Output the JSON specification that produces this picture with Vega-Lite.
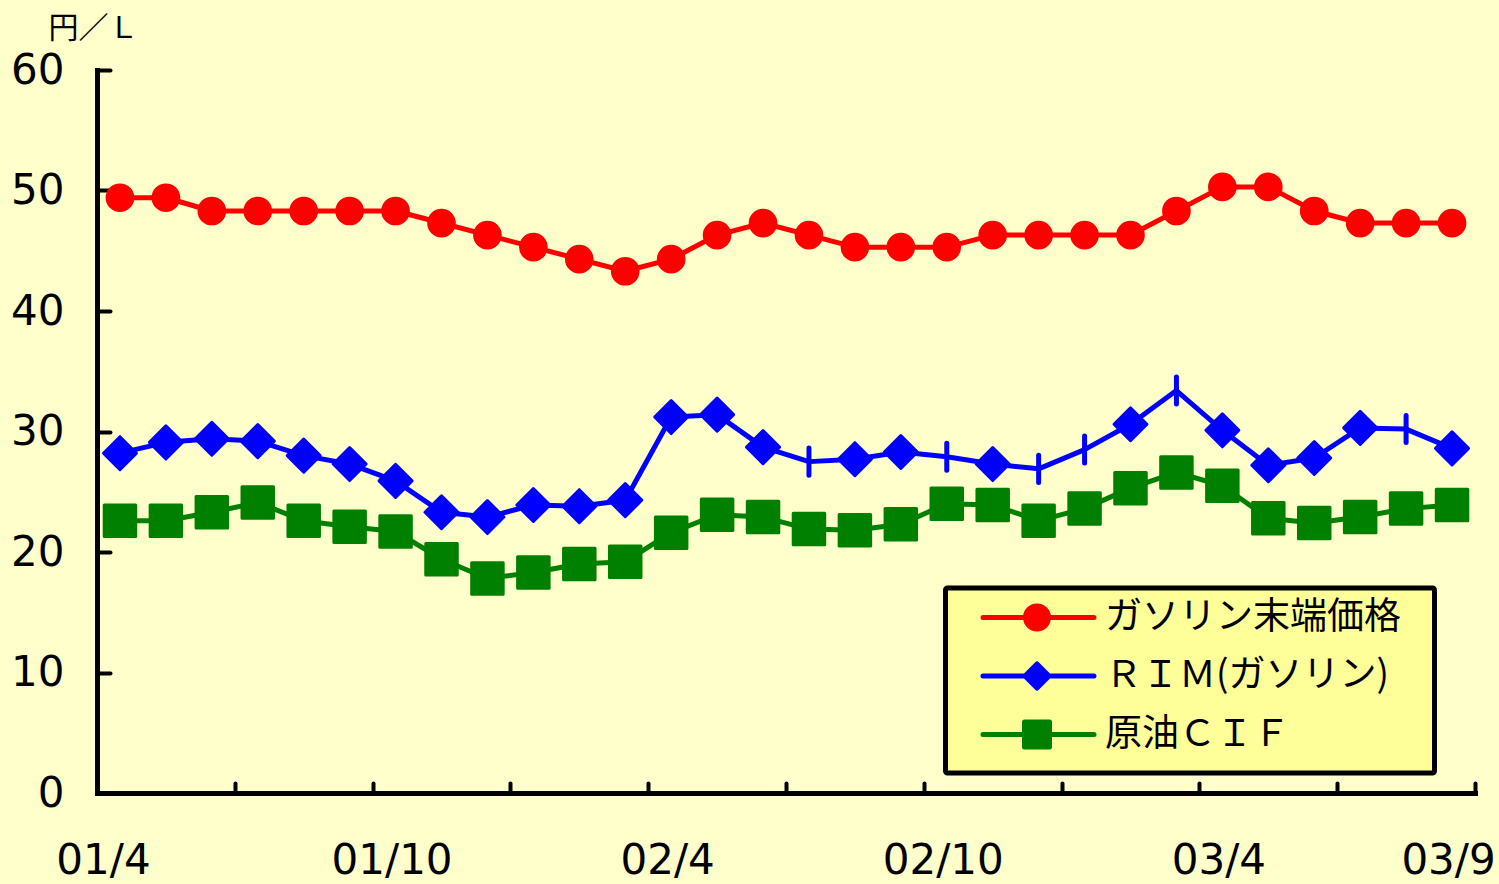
{
"$schema":"https://vega.github.io/schema/vega-lite/v6.json",
"width":1378,"height":723,
"autosize":{"type":"none"},
"padding":{"left":97,"top":70,"right":24,"bottom":91},
"background":"#FFFFCC",
"config":{"view":{"stroke":null},"legend":{"strokeWidth":5}},
"data":{"values":[
{"n":0,"month":"01/4","series":"ガソリン末端価格","price":49.4},{"n":1,"month":"01/5","series":"ガソリン末端価格","price":49.4},{"n":2,"month":"01/6","series":"ガソリン末端価格","price":48.3},{"n":3,"month":"01/7","series":"ガソリン末端価格","price":48.3},{"n":4,"month":"01/8","series":"ガソリン末端価格","price":48.3},{"n":5,"month":"01/9","series":"ガソリン末端価格","price":48.3},{"n":6,"month":"01/10","series":"ガソリン末端価格","price":48.3},{"n":7,"month":"01/11","series":"ガソリン末端価格","price":47.3},{"n":8,"month":"01/12","series":"ガソリン末端価格","price":46.3},{"n":9,"month":"02/1","series":"ガソリン末端価格","price":45.3},{"n":10,"month":"02/2","series":"ガソリン末端価格","price":44.3},{"n":11,"month":"02/3","series":"ガソリン末端価格","price":43.3},{"n":12,"month":"02/4","series":"ガソリン末端価格","price":44.3},{"n":13,"month":"02/5","series":"ガソリン末端価格","price":46.3},{"n":14,"month":"02/6","series":"ガソリン末端価格","price":47.3},{"n":15,"month":"02/7","series":"ガソリン末端価格","price":46.3},{"n":16,"month":"02/8","series":"ガソリン末端価格","price":45.3},{"n":17,"month":"02/9","series":"ガソリン末端価格","price":45.3},{"n":18,"month":"02/10","series":"ガソリン末端価格","price":45.3},{"n":19,"month":"02/11","series":"ガソリン末端価格","price":46.3},{"n":20,"month":"02/12","series":"ガソリン末端価格","price":46.3},{"n":21,"month":"03/1","series":"ガソリン末端価格","price":46.3},{"n":22,"month":"03/2","series":"ガソリン末端価格","price":46.3},{"n":23,"month":"03/3","series":"ガソリン末端価格","price":48.3},{"n":24,"month":"03/4","series":"ガソリン末端価格","price":50.3},{"n":25,"month":"03/5","series":"ガソリン末端価格","price":50.3},{"n":26,"month":"03/6","series":"ガソリン末端価格","price":48.3},{"n":27,"month":"03/7","series":"ガソリン末端価格","price":47.3},{"n":28,"month":"03/8","series":"ガソリン末端価格","price":47.3},{"n":29,"month":"03/9","series":"ガソリン末端価格","price":47.3},
{"n":0,"month":"01/4","series":"ＲＩＭ(ガソリン)","price":28.2},{"n":1,"month":"01/5","series":"ＲＩＭ(ガソリン)","price":29.1},{"n":2,"month":"01/6","series":"ＲＩＭ(ガソリン)","price":29.4},{"n":3,"month":"01/7","series":"ＲＩＭ(ガソリン)","price":29.2},{"n":4,"month":"01/8","series":"ＲＩＭ(ガソリン)","price":28.0},{"n":5,"month":"01/9","series":"ＲＩＭ(ガソリン)","price":27.3},{"n":6,"month":"01/10","series":"ＲＩＭ(ガソリン)","price":25.9},{"n":7,"month":"01/11","series":"ＲＩＭ(ガソリン)","price":23.3},{"n":8,"month":"01/12","series":"ＲＩＭ(ガソリン)","price":22.9},{"n":9,"month":"02/1","series":"ＲＩＭ(ガソリン)","price":23.9},{"n":10,"month":"02/2","series":"ＲＩＭ(ガソリン)","price":23.8},{"n":11,"month":"02/3","series":"ＲＩＭ(ガソリン)","price":24.3},{"n":12,"month":"02/4","series":"ＲＩＭ(ガソリン)","price":31.2},{"n":13,"month":"02/5","series":"ＲＩＭ(ガソリン)","price":31.4},{"n":14,"month":"02/6","series":"ＲＩＭ(ガソリン)","price":28.7},{"n":15,"month":"02/7","series":"ＲＩＭ(ガソリン)","price":27.5},{"n":16,"month":"02/8","series":"ＲＩＭ(ガソリン)","price":27.7},{"n":17,"month":"02/9","series":"ＲＩＭ(ガソリン)","price":28.3},{"n":18,"month":"02/10","series":"ＲＩＭ(ガソリン)","price":27.9},{"n":19,"month":"02/11","series":"ＲＩＭ(ガソリン)","price":27.3},{"n":20,"month":"02/12","series":"ＲＩＭ(ガソリン)","price":26.9},{"n":21,"month":"03/1","series":"ＲＩＭ(ガソリン)","price":28.5},{"n":22,"month":"03/2","series":"ＲＩＭ(ガソリン)","price":30.6},{"n":23,"month":"03/3","series":"ＲＩＭ(ガソリン)","price":33.4},{"n":24,"month":"03/4","series":"ＲＩＭ(ガソリン)","price":30.1},{"n":25,"month":"03/5","series":"ＲＩＭ(ガソリン)","price":27.2},{"n":26,"month":"03/6","series":"ＲＩＭ(ガソリン)","price":27.8},{"n":27,"month":"03/7","series":"ＲＩＭ(ガソリン)","price":30.3},{"n":28,"month":"03/8","series":"ＲＩＭ(ガソリン)","price":30.2},{"n":29,"month":"03/9","series":"ＲＩＭ(ガソリン)","price":28.6},
{"n":0,"month":"01/4","series":"原油ＣＩＦ","price":22.6},{"n":1,"month":"01/5","series":"原油ＣＩＦ","price":22.6},{"n":2,"month":"01/6","series":"原油ＣＩＦ","price":23.3},{"n":3,"month":"01/7","series":"原油ＣＩＦ","price":24.1},{"n":4,"month":"01/8","series":"原油ＣＩＦ","price":22.6},{"n":5,"month":"01/9","series":"原油ＣＩＦ","price":22.1},{"n":6,"month":"01/10","series":"原油ＣＩＦ","price":21.7},{"n":7,"month":"01/11","series":"原油ＣＩＦ","price":19.4},{"n":8,"month":"01/12","series":"原油ＣＩＦ","price":17.8},{"n":9,"month":"02/1","series":"原油ＣＩＦ","price":18.3},{"n":10,"month":"02/2","series":"原油ＣＩＦ","price":19.0},{"n":11,"month":"02/3","series":"原油ＣＩＦ","price":19.2},{"n":12,"month":"02/4","series":"原油ＣＩＦ","price":21.6},{"n":13,"month":"02/5","series":"原油ＣＩＦ","price":23.1},{"n":14,"month":"02/6","series":"原油ＣＩＦ","price":22.9},{"n":15,"month":"02/7","series":"原油ＣＩＦ","price":21.9},{"n":16,"month":"02/8","series":"原油ＣＩＦ","price":21.8},{"n":17,"month":"02/9","series":"原油ＣＩＦ","price":22.3},{"n":18,"month":"02/10","series":"原油ＣＩＦ","price":24.0},{"n":19,"month":"02/11","series":"原油ＣＩＦ","price":23.9},{"n":20,"month":"02/12","series":"原油ＣＩＦ","price":22.6},{"n":21,"month":"03/1","series":"原油ＣＩＦ","price":23.6},{"n":22,"month":"03/2","series":"原油ＣＩＦ","price":25.3},{"n":23,"month":"03/3","series":"原油ＣＩＦ","price":26.6},{"n":24,"month":"03/4","series":"原油ＣＩＦ","price":25.5},{"n":25,"month":"03/5","series":"原油ＣＩＦ","price":22.8},{"n":26,"month":"03/6","series":"原油ＣＩＦ","price":22.4},{"n":27,"month":"03/7","series":"原油ＣＩＦ","price":22.9},{"n":28,"month":"03/8","series":"原油ＣＩＦ","price":23.6},{"n":29,"month":"03/9","series":"原油ＣＩＦ","price":23.9}
]},
"encoding":{
"x":{"field":"n","type":"quantitative","scale":{"domain":[-0.5,29.5],"nice":false,"zero":false},
 "axis":{"title":null,"grid":false,"values":[-0.5,0,2.5,5.5,6,8.5,11.5,12,14.5,17.5,18,20.5,23.5,24,26.5,29,29.5],
  "labelExpr":"datum.value === 0 ? '01/4' : datum.value === 6 ? '01/10' : datum.value === 12 ? '02/4' : datum.value === 18 ? '02/10' : datum.value === 24 ? '03/4' : datum.value === 29 ? '03/9' : ''",
  "labelFont":"DejaVu Sans","labelFontSize":42,"labelColor":"black","labelPadding":57,"labelOverlap":false,"labelFlush":false,"labelBound":false,
  "labelOffset":{"condition":{"test":"datum.value === 0","value":-17},"value":-4},
  "tickSize":-10,"tickWidth":4,"tickColor":"black","tickCap":"round",
  "tickOpacity":{"condition":{"test":"datum.value % 1 === 0","value":0},"value":1},
  "domainColor":"black","domainWidth":5,"domainCap":"square"}},
"y":{"field":"price","type":"quantitative","scale":{"domain":[0,60],"nice":false},
 "axis":{"values":[0,10,20,30,40,50,60],"grid":false,"title":"円／Ｌ","titleAngle":0,"titleX":-49,"titleY":-41.5,"titleAlign":"left","titleBaseline":"middle","titleFont":"Noto Sans CJK JP","titleFontSize":30,"titleFontWeight":"normal","titleColor":"black",
  "labelFont":"DejaVu Sans","labelFontSize":42,"labelColor":"black","labelPadding":46,"labelOverlap":false,"labelFlush":false,"labelBound":false,
  "tickSize":-13,"tickWidth":4,"tickColor":"black","tickCap":"round",
  "domainColor":"black","domainWidth":5,"domainCap":"square"}},
"color":{"field":"series","type":"nominal",
 "scale":{"domain":["ガソリン末端価格","ＲＩＭ(ガソリン)","原油ＣＩＦ"],"range":["#FF0000","#0000FF","#008000"]},
 "legend":{"title":null,"orient":"none","legendX":848.5,"legendY":518,"padding":11,"rowPadding":11.5,"symbolOffset":62,"labelOffset":49.5,
  "symbolSize":4,"symbolStrokeWidth":5,"labelFont":"Noto Sans CJK JP","labelFontSize":37,"labelColor":"black","labelLimit":600,
  "fillColor":"#FFFF99","strokeColor":"black","cornerRadius":2,
  "encode":{"symbols":{"update":{
   "shape":{"signal":"datum.value === 'ガソリン末端価格' ? 'M-78,0M-54,0H57M-11.5,0A11.5,11.5 0 1,0 11.5,0A11.5,11.5 0 1,0 -11.5,0ZM0,25M383.5,0' : datum.value === 'ＲＩＭ(ガソリン)' ? 'M-78,0M-54,0H57M-12,0L0,-12L12,0L0,12ZM0,25M383.5,0' : 'M-78,0M-54,0H57M-12.5,-12.5H12.5V12.5H-12.5ZM0,25M383.5,0'"},
   "fill":{"scale":"color","field":"value"},"stroke":{"scale":"color","field":"value"},
   "strokeWidth":{"value":5},"strokeCap":{"value":"round"},"strokeJoin":{"value":"round"},"opacity":{"value":1},"size":{"value":4}}}}}}
},
"layer":[
{"mark":{"type":"line","strokeWidth":5,"strokeJoin":"round","strokeCap":"round"}},
{"transform":[{"filter":"datum.series === 'ガソリン末端価格'"}],
 "mark":{"type":"point","filled":true,"opacity":1,"shape":"circle","size":660,"stroke":"#FF0000","strokeWidth":3}},
{"transform":[{"filter":"datum.series === 'ＲＩＭ(ガソリン)'"}],
 "mark":{"type":"point","filled":true,"opacity":1,"size":1089,"stroke":"#0000FF","strokeJoin":"round","strokeCap":"round"},
 "encoding":{
  "shape":{"condition":{"test":"indexof([15,18,20,21,23,28], datum.n) >= 0","value":"M0,-0.82V0.82"},"value":"diamond"},
  "strokeWidth":{"condition":{"test":"indexof([15,18,20,21,23,28], datum.n) >= 0","value":5},"value":3}}},
{"transform":[{"filter":"datum.series === '原油ＣＩＦ'"}],
 "mark":{"type":"point","filled":true,"opacity":1,"shape":"square","size":992,"stroke":"#008000","strokeWidth":3,"strokeJoin":"round"}}
]
}
